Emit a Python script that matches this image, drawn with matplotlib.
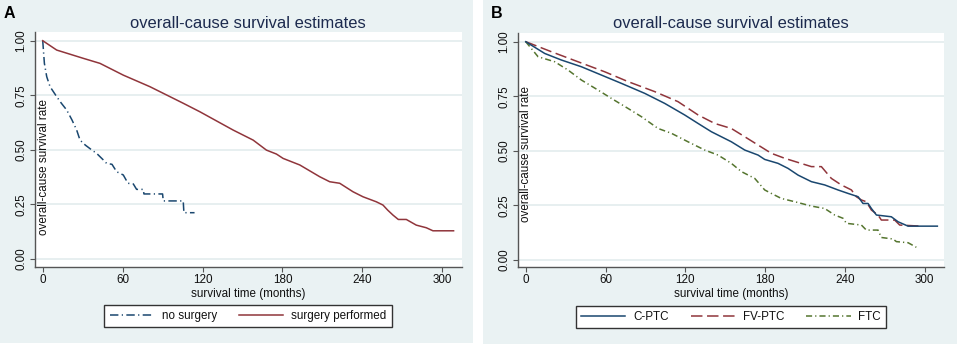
import matplotlib
matplotlib.use("Agg")
import matplotlib.pyplot as plt
from matplotlib.patches import Rectangle

plt.rcParams['font.family'] = ['Liberation Sans', 'DejaVu Sans']

# ---------------- data ----------------
title_text = "overall-cause survival estimates"
xlabel_text = "survival time (months)"
ylabel_text = "overall-cause survival rate"
xticks = [0, 60, 120, 180, 240, 300]
yticks = [0.0, 0.25, 0.5, 0.75, 1.0]
ytick_labels = ["0.00", "0.25", "0.50", "0.75", "1.00"]

# Panel A
nosurg_t = [0, 1.25, 3, 5.5, 10.5, 14, 18, 22, 25.5, 28, 32, 37, 40.5, 45.5, 48, 52, 55.5,
            60.5, 64, 68, 70.5, 75.5, 76, 90, 90.5, 105.5, 106, 114]
nosurg_s = [1.0, 0.896, 0.835, 0.789, 0.743, 0.713, 0.682, 0.636, 0.590, 0.544, 0.521, 0.498,
            0.483, 0.453, 0.437, 0.433, 0.399, 0.384, 0.346, 0.343, 0.318, 0.318, 0.297, 0.297,
            0.265, 0.265, 0.211, 0.211]
surg_t = [0, 10.5, 30.5, 43, 60.5, 80.5, 105.5, 118, 143, 158, 168, 175.5, 180.5, 193, 208,
          215.5, 223, 233, 240.5, 250.5, 255.5, 259, 263, 267, 273, 280.5, 288, 293, 308.5]
surg_s = [1.0, 0.957, 0.919, 0.896, 0.842, 0.789, 0.713, 0.674, 0.590, 0.544, 0.498, 0.480,
          0.460, 0.430, 0.376, 0.353, 0.346, 0.307, 0.284, 0.261, 0.246, 0.223, 0.200, 0.180,
          0.180, 0.154, 0.142, 0.128, 0.128]
labels_a = ["no surgery", "surgery performed"]

# Panel B
cptc_t = [0, 14.3, 26.8, 41.9, 56.9, 71.9, 89.5, 104.5, 119.5, 129.6, 139.6, 154.6, 164.7,
          174.7, 179.7, 189.7, 197.2, 204.8, 214.8, 224.8, 234.8, 242.4, 249.9, 253.6, 257.4,
          259.9, 263.7, 274.9, 280, 287.5, 309.5]
cptc_s = [1.0, 0.946, 0.916, 0.885, 0.847, 0.809, 0.763, 0.717, 0.664, 0.625, 0.587, 0.541,
          0.503, 0.480, 0.460, 0.442, 0.419, 0.388, 0.358, 0.343, 0.320, 0.304, 0.289, 0.258,
          0.258, 0.235, 0.205, 0.197, 0.174, 0.154, 0.154]
fvptc_t = [0, 19.3, 39.3, 59.4, 76.9, 97, 114.5, 129.6, 142.1, 154.6, 164.7, 174.7, 184.7,
           194.8, 204.8, 214.8, 222.3, 229.8, 237.3, 244.9, 248.6, 252.4, 256.1, 259.9, 264.9,
           267.4, 277.4, 281.2, 297.5]
fvptc_s = [1.0, 0.954, 0.908, 0.862, 0.817, 0.771, 0.725, 0.664, 0.625, 0.602, 0.564, 0.526,
           0.488, 0.465, 0.446, 0.427, 0.427, 0.373, 0.343, 0.320, 0.289, 0.274, 0.266, 0.228,
           0.205, 0.182, 0.182, 0.159, 0.154]
ftc_t = [0, 9.3, 21.8, 31.8, 41.9, 54.4, 64.4, 76.9, 87, 99.5, 109.5, 122, 134.6, 144.6,
         154.6, 162.2, 172.2, 179.7, 184.7, 192.2, 202.3, 214.8, 224.8, 232.3, 238.6, 241.1,
         252.4, 256.1, 264.9, 267.4, 276.2, 278.7, 287.5, 293.7]
ftc_s = [1.0, 0.931, 0.908, 0.870, 0.824, 0.778, 0.740, 0.694, 0.656, 0.602, 0.580, 0.541,
         0.503, 0.480, 0.442, 0.404, 0.373, 0.320, 0.304, 0.281, 0.266, 0.246, 0.235, 0.205,
         0.190, 0.167, 0.159, 0.136, 0.136, 0.102, 0.095, 0.083, 0.078, 0.057]
labels_b = ["C-PTC", "FV-PTC", "FTC"]

# ---------------- style ----------------
W, H = 957, 345
NAVY = "#1a476f"
MAROON = "#90353b"
GREEN = "#55752f"
PANEL_BG = "#eaf2f3"
GRID = "#e3ecee"
TEXT = "#1c2a4e"
SPINE = "#555555"
FS = 8.4

fig = plt.figure(figsize=(W / 100, H / 100), dpi=100, facecolor="white")

def fx(px):
    return px / W

def fy(py):
    return 1 - py / H

# panel backgrounds
fig.patches.append(Rectangle((0, fy(343)), fx(473.3), 1 - fy(343), transform=fig.transFigure,
                             facecolor=PANEL_BG, edgecolor="none", zorder=-10))
fig.patches.append(Rectangle((fx(482.7), fy(344)), 1 - fx(482.7), 1 - fy(344),
                             transform=fig.transFigure, facecolor=PANEL_BG, edgecolor="none",
                             zorder=-10))


def setup_axes(left, right, top, bottom, xlim, ylim):
    ax = fig.add_axes([fx(left), fy(bottom), fx(right - left), (bottom - top) / H])
    ax.set_facecolor("white")
    ax.set_xlim(*xlim)
    ax.set_ylim(*ylim)
    for s in ["top", "right"]:
        ax.spines[s].set_visible(False)
    for s in ["left", "bottom"]:
        ax.spines[s].set_color(SPINE)
        ax.spines[s].set_linewidth(1.0)
    ax.set_xticks(xticks)
    ax.set_xticklabels([str(v) for v in xticks])
    ax.set_yticks(yticks)
    ax.set_yticklabels(ytick_labels, rotation=90, va="center")
    ax.tick_params(axis="both", direction="out", length=3.6, width=0.8, color=SPINE,
                   labelsize=FS, labelcolor="#111111")
    ax.tick_params(axis="x", pad=1.8)
    ax.tick_params(axis="y", pad=2.0)
    for y in yticks:
        ax.axhline(y, color=GRID, lw=1.2, zorder=0)
    return ax


# ---------------- Panel A ----------------
axA = setup_axes(35, 461.7, 32.3, 266.7, (-5.8, 314.6), (-0.0367, 1.0385))
lA1, = axA.plot(nosurg_t, nosurg_s, color=NAVY, lw=1.1, linestyle=(0, (5.5, 2.2, 0.8, 2.2)),
                label=labels_a[0])
lA2, = axA.plot(surg_t, surg_s, color=MAROON, lw=1.1, label=labels_a[1])

# ---------------- Panel B ----------------
axB = setup_axes(518, 944, 33.3, 266.7, (-5.8, 314.5), (-0.032, 1.0385))
lB1, = axB.plot(cptc_t, cptc_s, color=NAVY, lw=1.1, label=labels_b[0], zorder=4)
lB2, = axB.plot(fvptc_t, fvptc_s, color=MAROON, lw=1.1, linestyle=(0, (7.5, 3)),
                label=labels_b[1], zorder=3)
lB3, = axB.plot(ftc_t, ftc_s, color=GREEN, lw=1.1, linestyle=(0, (4, 2, 0.8, 2)),
                label=labels_b[2], zorder=3)

# titles, labels
for cx in [248.3, 731]:
    fig.text(fx(cx), fy(27.5), title_text, ha="center", va="baseline", fontsize=11.9,
             color=TEXT)
    fig.text(fx(cx), fy(296.5), xlabel_text, ha="center", va="baseline", fontsize=FS,
             color="#111111")

fig.text(fx(43.7), fy(166.7), ylabel_text, rotation=90, ha="center", va="center",
         fontsize=FS, color="#111111")
fig.text(fx(526.3), fy(153.7), ylabel_text, rotation=90, ha="center", va="center",
         fontsize=FS, color="#111111")

fig.text(fx(4), fy(18.3), "A", ha="left", va="baseline", fontsize=11.5, fontweight="bold",
         color="black")
fig.text(fx(490.7), fy(18.3), "B", ha="left", va="baseline", fontsize=11.5,
         fontweight="bold", color="black")

# legends
legA = fig.legend(handles=[lA1, lA2], labels=labels_a, loc="center",
                  bbox_to_anchor=(fx(248), fy(316)), ncol=2, fontsize=FS, frameon=True,
                  fancybox=False, handlelength=3.8, handletextpad=0.66, columnspacing=1.9,
                  borderpad=0.45, borderaxespad=0)
legB = fig.legend(handles=[lB1, lB2, lB3], labels=labels_b, loc="center",
                  bbox_to_anchor=(fx(731), fy(317)), ncol=3, fontsize=FS, frameon=True,
                  fancybox=False, handlelength=3.8, handletextpad=0.66, columnspacing=1.9,
                  borderpad=0.45, borderaxespad=0)
for leg in (legA, legB):
    fr = leg.get_frame()
    fr.set_edgecolor("#333333")
    fr.set_linewidth(1.0)
    fr.set_facecolor("white")
    fr.set_alpha(1.0)
    for t in leg.get_texts():
        t.set_color("#111111")

fig.savefig("out.png", dpi=100, facecolor="white")
